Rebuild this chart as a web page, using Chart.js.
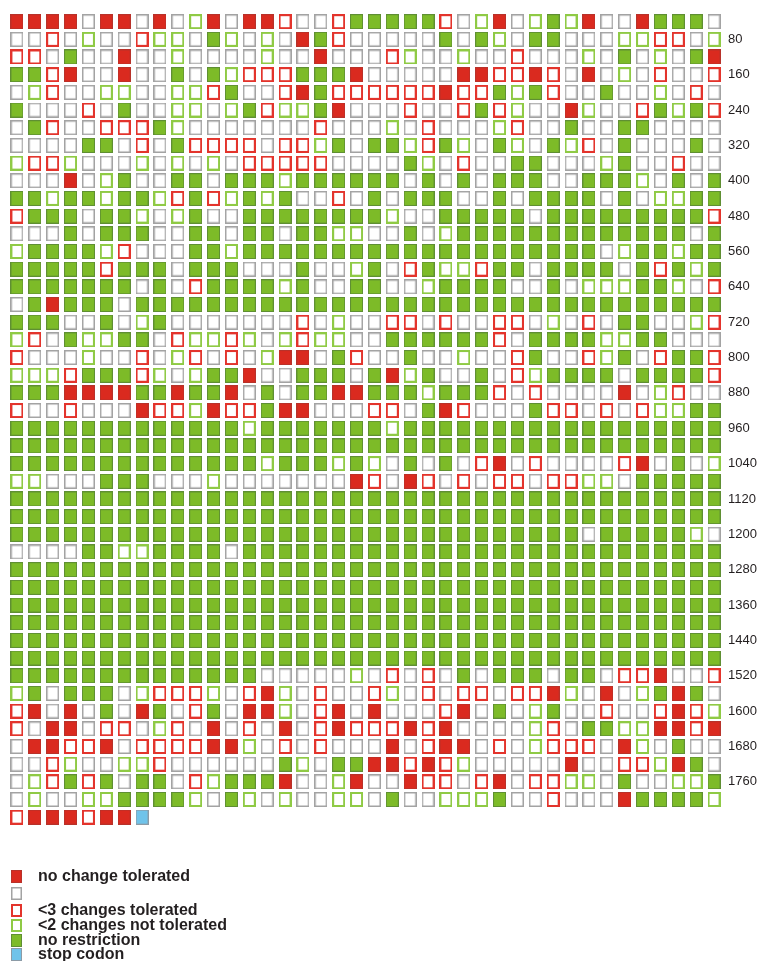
<!DOCTYPE html>
<html>
<head>
<meta charset="utf-8">
<script src="https://cdn.jsdelivr.net/npm/chart.js@4.4.1/dist/chart.umd.min.js"></script>
<style>
  html, body { margin: 0; padding: 0; background: #fff; }
  #wrap { width: 763px; height: 961px; }
</style>
</head>
<body>
<div id="wrap"><canvas id="codons" width="763" height="961"></canvas></div>
<script>
// one string per row of 40 codons
// R = no change tolerated, w = blank, r = <3 changes tolerated,
// g = <2 changes not tolerated, G = no restriction, B = stop codon
var codonRows = [
  "RRRRwRRwRwgRwRRrwwrGGGGGrwgRwgGgRwwRGGGw",
  "wwrwgwwrggwGgwgwRGrwwwwwGwGgwGGwwwggrrwg",
  "rrwGwwRwwgwwwwgwwRwwwrgwwgwwrwwwgwGwgwGR",
  "GGrRwwRwwGwGgrrrGGGRwwwwwRRrrRrwRwgwrwwr",
  "wgrwwggwwggrGwwrRGrrrrrrRrrGgGrwwGwwgwrw",
  "GwwwrwGwwggwgGrggGRwwwrwwrGrgwwRgwwrGgGr",
  "wGrwwrrrGgwwwwwwwrwwwgwrwwwgrwwGwwGGwwww",
  "wwwwGGwrwGrrrrwrrgGwGGgrGgwGgwGgrwGwwwGw",
  "grrgwwwgwgwgwrrrrrwwwwGgwrwwGGwwwgGwwrww",
  "wwwRwgGwwGGwGGGgGGGGGGwGwGwGGGwwGGGgwGwG",
  "GGgGGgGGgrGrgGgGwwrwGwGGGwwGwGGGGwGwggGG",
  "rGGGwGGgwgGwwGGGGGGGGgwwGGGGGwGGGGGGGGGr",
  "wwwGwGGGwwGGwGGwGGggwwGwgGGGGGGGGGGGGGwG",
  "gGGGGgrwwwGGgGGGGGGGGGGGGGGGGGGGGwgGGgGG",
  "GGGGGrGGGwGGGwwwGwwgGwrGggrGGwGGGGwGrGgG",
  "GGGGGGGwGwrGGGGgGwwGGwwgGGGGwwGwgggGGgwr",
  "wGRGGGwGGGGGGGGGGGGGGGGGGGGGGGGGGGGGGGGG",
  "GGGwwGwgGwwwwwwwrwgwwrrwrwwrrwgwrwGGwwgr",
  "grwGggGGwrggrgwgrggwwGGGGGGrwGGGGggGGwww",
  "rwwwgwwrwgrwrwgRRwGrwwGwwgwwrGwwrgGwrGGr",
  "gggrGGGrgwgGGRwwGGGwGRgGwwGwrgGGGGwGGGGr",
  "GGGRRRRGGRGGRwGwGGRRGGGgGGGrwrwwwwRwgrww",
  "rwwrwwwRrrgRrrGRRwwwrrwGRrwwwGrrwrwrggGG",
  "GGGGGGGGGGGGGgGGGGGGGgGGGGGGGGGGGGGGGGGG",
  "GGGGGGGGGGGGGGGGGGGGGGGGGGGGGGGGGGGGGGGG",
  "GGGGGGGGGGGGGGgGGGgGgwGwGwrRwrwwwwrRwGwg",
  "ggwwwGGGwwwgwwwwwwwRrwRrwrwrrwrrggwGGGGG",
  "GGGGGGGGGGGGGGGGGGGGGGGGGGGGGGGGGGGGGGGG",
  "GGGGGGGGGGGGGGGGGGGGGGGGGGGGGGGGGGGGGGGG",
  "GGGGGGGGGGGGGGGGGGGGGGGGGGGGGGGGwGGGGGgw",
  "wwwwGGggGGGGwGGGGGGGGGGGGGGGGGGGGGGGGGGG",
  "GGGGGGGGGGGGGGGGGGGGGGGGGGGGGGGGGGGGGGGG",
  "GGGGGGGGGGGGGGGGGGGGGGGGGGGGGGGGGGGGGGGG",
  "GGGGGGGGGGGGGGGGGGGGGGGGGGGGGGGGGGGGGGGG",
  "GGGGGGGGGGGGGGGGGGGGGGGGGGGGGGGGGGGGGGGG",
  "GGGGGGGGGGGGGGGGGGGGGGGGGGGGGGGGGGGGGGGG",
  "GGGGGGGGGGGGGGGGGGGGGGGGGGGGGGGGGGGGGGGG",
  "GGGGGGGGGGGGGGwwwwwgwrwrwGwGGGwGGwrrRwwr",
  "gGwGGGwgrrrgwrRgwrwwrgwrwrrwrrRgwRwgGRGw",
  "rRwRwGwRGwrGwRRgwrRwRwwwrRwGwgGwwrwwrRrg",
  "rwRRwrrwgrwRwrwRwrRrrrRrRwwwwgrwGGggRRrR",
  "wRRrrRwrrrrRRgwrwrwwwRwrRRwrwgrrrwRgwGww",
  "wwrgwwggrwwwwwwGgwGGRRrRrgwwwwwRwwrrgRGw",
  "wgrGrGwGGwrgGGGRwwgRwwRrrwrRwrrggwGwwggG",
  "wgwwggGGGGgwGgwgwwggwGwwgggGwwrwwwRGGGGg",
  "rRRRrRRB"
];

var categoryCodes  = ["R", "w", "r", "g", "G", "B"];
var categoryLabels = ["no change tolerated", "", "<3 changes tolerated",
                      "<2 changes not tolerated", "no restriction", "stop codon"];
var tickLabels = [80, 160, 240, 320, 400, 480, 560, 640, 720, 800, 880, 960, 1040,
                  1120, 1200, 1280, 1360, 1440, 1520, 1600, 1680, 1760];

// how each kind of square looks
var squareStyles = {
  R: { fill: "#da2a1f", stroke: "#b8322a", line: 1 },
  w: { fill: "#ffffff", stroke: "#a3a3a3", line: 1.5 },
  r: { fill: "#ffffff", stroke: "#e3342c", line: 2 },
  g: { fill: "#ffffff", stroke: "#8fca45", line: 2 },
  G: { fill: "#7dbb28", stroke: "#5f8f33", line: 1 },
  B: { fill: "#6fc3ea", stroke: "#8c9ba6", line: 1 }
};

function makeSquare(code, w, h) {
  var s = squareStyles[code];
  var c = document.createElement("canvas");
  c.width = w; c.height = h;
  var g = c.getContext("2d");
  g.fillStyle = s.fill;
  g.fillRect(0, 0, w, h);
  g.strokeStyle = s.stroke;
  g.lineWidth = s.line;
  g.strokeRect(s.line / 2, s.line / 2, w - s.line, h - s.line);
  return c;
}

var cellImages = {}, legendImages = {};
categoryCodes.forEach(function (code) {
  cellImages[code] = makeSquare(code, 13, 15);
  legendImages[code] = makeSquare(code, 11, 13);
});

// one dataset per category, points at (column, row)
var datasets = categoryCodes.map(function (code, k) {
  var pts = [];
  codonRows.forEach(function (row, i) {
    for (var j = 0; j < row.length; j++) {
      if (row[j] === code) pts.push({ x: j + 1, y: i + 1 });
    }
  });
  return {
    label: categoryLabels[k],
    code: code,
    data: pts,
    pointStyle: cellImages[code],
    pointRadius: 7,
    pointHoverRadius: 7
  };
});

// vertical legend under the grid
var legendList = {
  id: "legendList",
  afterDraw: function (chart) {
    var ctx = chart.ctx;
    var ys = [876, 893, 910, 925, 940, 954];
    ctx.save();
    ctx.font = "bold 16px 'Liberation Sans', Arial, sans-serif";
    ctx.fillStyle = "#231f20";
    ctx.textBaseline = "middle";
    chart.data.datasets.forEach(function (ds, k) {
      var img = legendImages[ds.code];
      ctx.drawImage(img, 11, ys[k] - 6);
      if (ds.label) ctx.fillText(ds.label, 38, ys[k] + 1);
    });
    ctx.restore();
  }
};

new Chart(document.getElementById("codons"), {
  type: "scatter",
  data: { datasets: datasets },
  options: {
    responsive: false,
    animation: false,
    layout: { padding: { left: 7, top: 4, right: 0, bottom: 135 } },
    plugins: {
      legend: { display: false },
      tooltip: { enabled: false }
    },
    scales: {
      x: { type: "linear", min: 0.5, max: 40.5, display: false },
      y: {
        type: "linear",
        position: "right",
        reverse: true,
        min: 0.5,
        max: codonRows.length + 0.5,
        grid: { display: false, drawTicks: false },
        border: { display: false },
        afterBuildTicks: function (axis) {
          axis.ticks = tickLabels.map(function (t) { return { value: t / 40 }; });
        },
        afterFit: function (axis) { axis.width = 40; },
        ticks: {
          autoSkip: false,
          padding: 5,
          color: "#231f20",
          font: { family: "'Liberation Sans', Arial, sans-serif", size: 13 },
          callback: function (v) { return String(v * 40); }
        }
      }
    }
  },
  plugins: [legendList]
});
</script>
</body>
</html>
